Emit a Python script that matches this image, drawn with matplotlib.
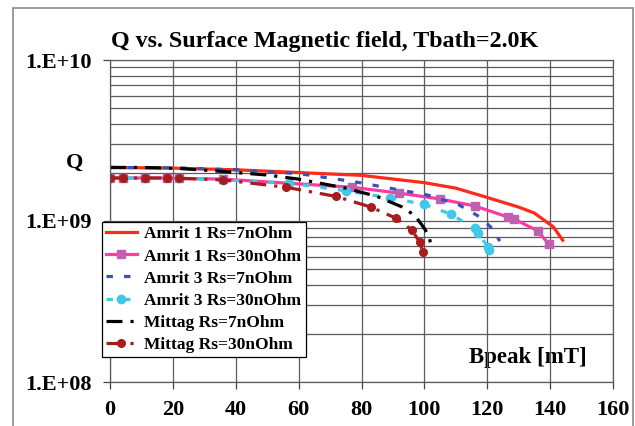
import matplotlib.pyplot as plt
from matplotlib.patches import Rectangle
from matplotlib.ticker import LogLocator, FixedLocator, NullFormatter

plt.rcParams['font.family'] = ['Liberation Serif', 'DejaVu Serif']
plt.rcParams['font.weight'] = 'bold'

# Bpeak [mT] and Q for each cavity / surface resistance case
amrit1_7_b = [0, 20, 40, 60, 80, 100, 110, 120, 130, 135, 141, 144]
amrit1_7_q = [2.15e9, 2.13e9, 2.08e9, 2.0e9, 1.92e9, 1.73e9, 1.6e9, 1.4e9, 1.22e9, 1.12e9, 0.92e9, 0.76e9]

amrit1_30_b = [0, 4, 11, 18, 22, 36, 77, 92, 105, 116, 126.5, 128.5, 136, 139.5]
amrit1_30_q = [1.85e9, 1.85e9, 1.85e9, 1.85e9, 1.84e9, 1.82e9, 1.62e9, 1.49e9, 1.37e9, 1.24e9, 1.06e9, 1.03e9, 0.87e9, 0.72e9]

amrit3_7_b = [0, 20, 40, 60, 78, 92, 101, 111, 118, 121.5, 124]
amrit3_7_q = [2.15e9, 2.14e9, 2.08e9, 1.97e9, 1.75e9, 1.56e9, 1.45e9, 1.26e9, 1.05e9, 0.9e9, 0.75e9]

amrit3_30_b = [0, 11, 22, 36, 57, 75, 89, 100, 108.5, 116, 117, 120.3, 120.6]
amrit3_30_q = [1.85e9, 1.85e9, 1.84e9, 1.8e9, 1.72e9, 1.54e9, 1.39e9, 1.27e9, 1.1e9, 0.9e9, 0.84e9, 0.69e9, 0.66e9]

mittag_7_b = [0, 11, 22, 36, 50, 60, 75, 85, 93, 97, 100, 101.5, 102]
mittag_7_q = [2.15e9, 2.15e9, 2.12e9, 2.03e9, 1.93e9, 1.82e9, 1.6e9, 1.42e9, 1.22e9, 1.08e9, 0.9e9, 0.8e9, 0.72e9]

mittag_30_b = [0, 4, 11, 18, 22, 36, 56, 72, 83, 91, 96, 98.5, 99.5]
mittag_30_q = [1.85e9, 1.85e9, 1.85e9, 1.85e9, 1.84e9, 1.8e9, 1.62e9, 1.42e9, 1.22e9, 1.04e9, 0.88e9, 0.74e9, 0.64e9]

x_ticks = [0, 20, 40, 60, 80, 100, 120, 140, 160]
y_ticks = [1e8, 1e9, 1e10]
y_labels = ['1.E+08', '1.E+09', '1.E+10']

fig = plt.figure(figsize=(6.35, 4.26), dpi=100)
fig.patches.append(Rectangle((13 / 635, -0.05), 620 / 635, 1.05 - 8 / 426,
                             transform=fig.transFigure, fill=False,
                             edgecolor='#8a8a8a', linewidth=1.2))
ax = fig.add_axes([110 / 635, 1 - 382 / 426, 503 / 635, 322 / 426])

dashdot = (0, (5, 2.5, 1, 2.5))
ax.plot(amrit1_7_b, amrit1_7_q, color='#ff2a1a', lw=2.3, label='Amrit 1 Rs=7nOhm')
ax.plot(amrit1_30_b, amrit1_30_q, color='#ff3aa0', lw=2.3, marker='s', ms=5.5,
        mfc='#c060b0', mec='#c060b0', label='Amrit 1 Rs=30nOhm')
ax.plot(amrit3_7_b, amrit3_7_q, color='#3a50b8', lw=2.3, ls=(0, (2, 3.5)),
        label='Amrit 3 Rs=7nOhm')
ax.plot(amrit3_30_b, amrit3_30_q, color='#40c8e8', lw=2.3, ls=(0, (2, 3.5)),
        marker='o', ms=6, label='Amrit 3 Rs=30nOhm')
ax.plot(mittag_7_b, mittag_7_q, color='black', lw=2.3, ls=dashdot,
        label='Mittag Rs=7nOhm')
ax.plot(mittag_30_b, mittag_30_q, color='#a81c1c', lw=2.3, ls=dashdot,
        marker='o', ms=5.5, label='Mittag Rs=30nOhm')

ax.set_yscale('log')
ax.set_xlim(0, 160)
ax.set_ylim(1e8, 1e10)
ax.xaxis.set_major_locator(FixedLocator(x_ticks))
ax.yaxis.set_major_locator(FixedLocator(y_ticks))
ax.set_yticklabels(y_labels)
ax.yaxis.set_minor_locator(LogLocator(base=10, subs=range(2, 10)))
ax.yaxis.set_minor_formatter(NullFormatter())
ax.grid(True, which='both', color='#5a5a5a', lw=0.9)
ax.tick_params(axis='both', which='major', labelsize=16, length=5, pad=8,
               color='#444444', width=0.9)
ax.tick_params(axis='y', which='minor', length=0)
for s in ax.spines.values():
    s.set_color('#5a5a5a')
    s.set_linewidth(0.9)

ax.set_title('Q vs. Surface Magnetic field, Tbath=2.0K', fontsize=17.3,
             fontweight='bold', x=0.427, pad=9)
fig.text(75 / 635, 1 - 163 / 426, 'Q', fontsize=16, fontweight='bold',
         ha='center', va='center')
ax.text(0.83, 0.075, 'Bpeak [mT]', transform=ax.transAxes, fontsize=16.5,
        fontweight='bold', ha='center', va='center', zorder=0.1)

leg = ax.legend(loc='upper left', bbox_to_anchor=(-0.016, 0.497),
                prop={'size': 12.5, 'weight': 'bold'}, fancybox=False,
                edgecolor='black', framealpha=1, borderpad=0.25,
                labelspacing=0.34, handlelength=1.75, handletextpad=0.45,
                borderaxespad=0)
leg.get_frame().set_linewidth(0.9)

fig.savefig('out.png', dpi=100)
